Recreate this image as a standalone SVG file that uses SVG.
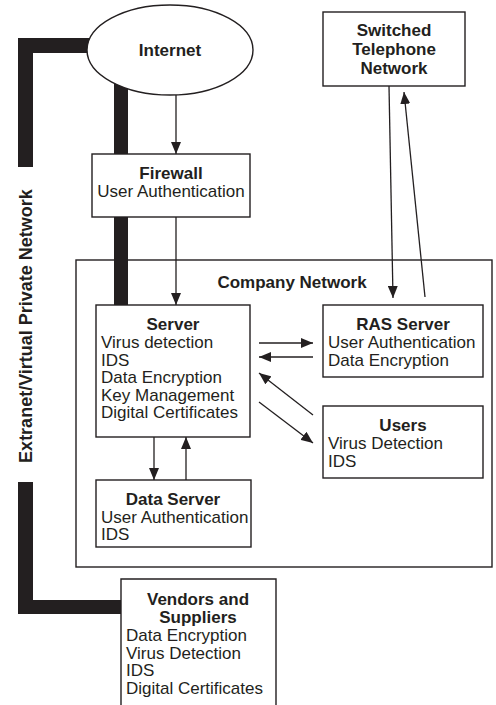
<svg xmlns="http://www.w3.org/2000/svg" width="496" height="705" viewBox="0 0 496 705">
<defs>
<marker id="ah" viewBox="0 0 12 10" refX="12" refY="5" markerWidth="12" markerHeight="10" markerUnits="userSpaceOnUse" orient="auto">
<path d="M0,0 L12,5 L0,10 Z" fill="#231f20"/>
</marker>
</defs>
<style>
.box{fill:#fff;stroke:#231f20;stroke-width:1.4}
.bar{fill:#231f20}
.arr{stroke:#231f20;stroke-width:1.3;fill:none;marker-end:url(#ah)}
text{font-family:"Liberation Sans",Arial,sans-serif;font-size:17px;fill:#231f20}
.b{font-weight:bold}
.c{text-anchor:middle}
</style>
<rect width="496" height="705" fill="#fff"/>
<g id="company-network">
<rect class="box" x="76" y="260" width="416" height="307"/>
<text class="b c" x="292" y="288">Company Network</text>
</g>
<g id="connectors">
<rect class="bar" x="18" y="38" width="80" height="15"/>
<rect class="bar" x="18" y="38" width="15" height="129"/>
<rect class="bar" x="18" y="482" width="15" height="132"/>
<rect class="bar" x="18" y="600" width="104" height="14"/>
<rect class="bar" x="114" y="60" width="14" height="245"/>
<line class="arr" x1="176" y1="95" x2="176" y2="154"/>
<line class="arr" x1="176" y1="217" x2="176" y2="305"/>
<line class="arr" x1="154" y1="437" x2="154" y2="480"/>
<line class="arr" x1="186" y1="480" x2="186" y2="437"/>
<line class="arr" x1="259" y1="343" x2="313" y2="343"/>
<line class="arr" x1="313" y1="357" x2="259" y2="357"/>
<line class="arr" x1="313" y1="415" x2="259" y2="373"/>
<line class="arr" x1="259" y1="402" x2="313" y2="443"/>
<line class="arr" x1="389" y1="86" x2="393" y2="298"/>
<line class="arr" x1="425" y1="297" x2="404" y2="92"/>
</g>
<text class="b c" transform="translate(32,326) rotate(-90)" x="0" y="0" style="font-size:18px">Extranet/Virtual Private Network</text>
<g id="internet">
<ellipse class="box" cx="170" cy="50" rx="83" ry="45"/>
<text class="b c" x="170" y="56">Internet</text>
</g>
<g id="firewall">
<rect class="box" x="92" y="154" width="158" height="63"/>
<text class="b c" x="171" y="179">Firewall</text>
<text class="c" x="171" y="197">User Authentication</text>
</g>
<g id="switched-telephone-network">
<rect class="box" x="323" y="12" width="142" height="74"/>
<text class="b c" x="394" y="36">Switched</text>
<text class="b c" x="394" y="55">Telephone</text>
<text class="b c" x="394" y="74">Network</text>
</g>
<g id="server">
<rect class="box" x="96" y="305" width="154" height="132"/>
<text class="b c" x="173" y="330">Server</text>
<text x="101" y="348">Virus detection</text>
<text x="101" y="365.5">IDS</text>
<text x="101" y="383">Data Encryption</text>
<text x="101" y="400.5">Key Management</text>
<text x="101" y="418">Digital Certificates</text>
</g>
<g id="ras-server">
<rect class="box" x="323" y="305" width="160" height="72"/>
<text class="b c" x="403" y="330">RAS Server</text>
<text x="328" y="348">User Authentication</text>
<text x="328" y="365.5">Data Encryption</text>
</g>
<g id="users">
<rect class="box" x="323" y="406" width="160" height="72"/>
<text class="b c" x="403" y="431">Users</text>
<text x="328" y="449">Virus Detection</text>
<text x="328" y="466.5">IDS</text>
</g>
<g id="data-server">
<rect class="box" x="96" y="480" width="155" height="67"/>
<text class="b c" x="173" y="505">Data Server</text>
<text x="101" y="522.5">User Authentication</text>
<text x="101" y="540">IDS</text>
</g>
<g id="vendors-and-suppliers">
<path class="box" d="M121,706 V579 H276 V706"/>
<text class="b c" x="198" y="605">Vendors and</text>
<text class="b c" x="198" y="623">Suppliers</text>
<text x="126" y="641">Data Encryption</text>
<text x="126" y="658.5">Virus Detection</text>
<text x="126" y="676">IDS</text>
<text x="126" y="693.5">Digital Certificates</text>
</g>
</svg>
